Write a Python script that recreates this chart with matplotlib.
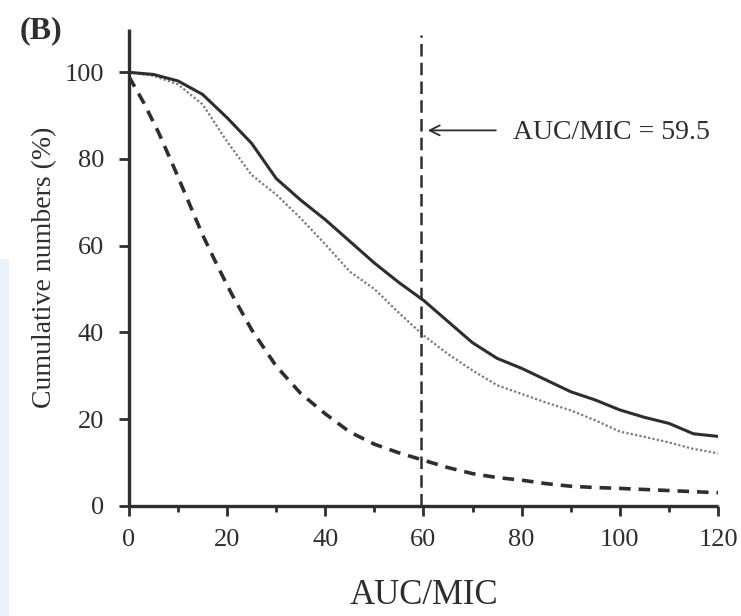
import matplotlib
matplotlib.use("Agg")
import matplotlib.pyplot as plt
from matplotlib.patches import Rectangle

# Data
x_solid = [0, 5, 10, 15, 20, 25, 30, 35, 40, 45, 50, 55, 60, 65, 70, 75, 80, 85, 90, 95, 100, 105, 110, 115, 120]
y_solid = [100, 99.5, 98.0, 94.9, 89.5, 83.6, 75.5, 70.5, 66.0, 61.0, 56, 51.5, 47.4, 42.5, 37.6, 34.0, 31.7, 29, 26.3, 24.4, 22.1, 20.4, 19.0, 16.6, 16.0]
x_dotted = [0, 5, 10, 15, 20, 25, 30, 35, 40, 45, 50, 55, 60, 65, 70, 75, 80, 85, 90, 95, 100, 105, 110, 115, 120]
y_dotted = [100, 99.2, 97.2, 92.6, 84.0, 76.3, 71.8, 66.3, 60.3, 54.0, 50.0, 44.5, 39.3, 35, 31.2, 27.8, 25.8, 23.8, 22.0, 19.7, 17.1, 15.9, 14.6, 13.1, 12.1]
x_dashed = [0, 3, 6, 9, 12, 15, 18, 21, 25, 30, 35, 40, 45, 50, 55, 60, 65, 70, 75, 80, 85, 90, 95, 100, 110, 120]
y_dashed = [99, 93, 86.2, 78.5, 70.5, 62.5, 55.4, 48.7, 40.6, 32.2, 25.9, 21.2, 17.0, 14.2, 12.2, 10.5, 8.8, 7.4, 6.5, 5.9, 5.1, 4.5, 4.2, 4.0, 3.5, 3.0]
cutoff = 59.5
annotation = "AUC/MIC = 59.5"
x_ticks = [0, 20, 40, 60, 80, 100, 120]
y_ticks = [0, 20, 40, 60, 80, 100]

plt.rcParams['font.family'] = ['Liberation Serif', 'DejaVu Serif']
col = '#2e2e2e'

fig = plt.figure(figsize=(7.41, 6.16), dpi=100)
fig.patches.append(Rectangle((0, 0), 0.012, 0.58, transform=fig.transFigure,
                             facecolor='#eaf1fb', edgecolor='none', zorder=0))
ax = fig.add_axes([0.174, 0.179, 0.795, 0.774])

ax.plot(x_solid, y_solid, color=col, lw=2.2, solid_joinstyle='round', zorder=3)
ax.plot(x_dotted, y_dotted, color='#7a7a7a', lw=1.6, linestyle=(0, (1, 1)), zorder=2)
ax.plot(x_dashed, y_dashed, color=col, lw=2.6, linestyle=(0, (3.2, 2.2)), zorder=2)
ax.plot([cutoff, cutoff], [0, 108.5], color=col, lw=1.8, linestyle=(0, (5, 2.5)), zorder=2)

ax.annotate('', xy=(cutoff + 0.8, 86.6), xytext=(cutoff + 15.8, 86.6),
            arrowprops=dict(arrowstyle='->', color=col, lw=1.3, mutation_scale=18))
ax.text(cutoff + 18.8, 86.0, annotation, fontsize=20, color=col, va='center', ha='left')

ax.set_xlim(0, 120)
ax.set_ylim(0, 110)
ax.set_xticks(x_ticks)
ax.set_xticks([10, 30, 50, 70, 90, 110], minor=True)
ax.set_yticks(y_ticks)
ax.tick_params(axis='both', which='major', labelsize=19, colors=col, width=2, length=7)
ax.tick_params(axis='x', which='major', pad=10)
ax.tick_params(axis='y', which='major', pad=11)
ax.tick_params(axis='x', which='minor', width=2, length=4, colors=col)
for s in ['top', 'right']:
    ax.spines[s].set_visible(False)
for s in ['left', 'bottom']:
    ax.spines[s].set_linewidth(2.4)
    ax.spines[s].set_color(col)
    ax.spines[s].set_capstyle('butt')
ax.spines['bottom'].set_bounds(0, 120)

ax.set_ylabel('Cumulative numbers (%)', fontsize=20, color=col, labelpad=5)
ax.set_xlabel('AUC/MIC', fontsize=25, color=col, labelpad=20)

fig.text(0.026, 0.95, '(B)', fontsize=23, fontweight='bold', color=col, ha='left', va='center')

fig.savefig('out.png', dpi=100)
